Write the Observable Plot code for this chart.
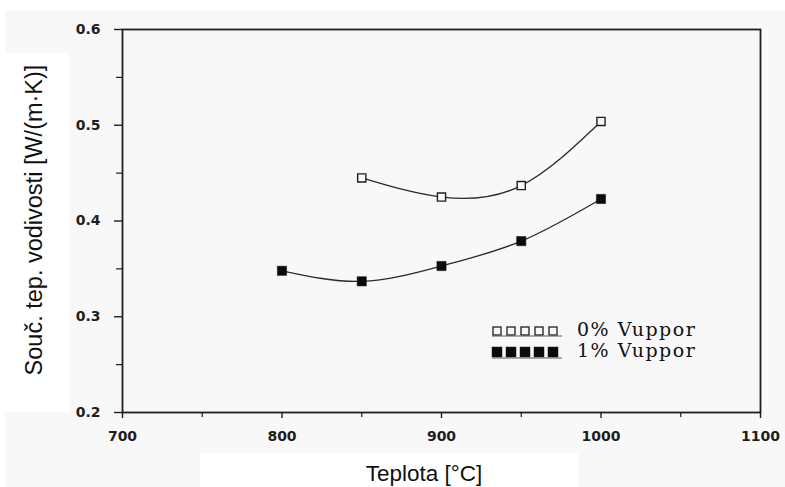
<!DOCTYPE html>
<html>
<head>
<meta charset="utf-8">
<script src="https://cdn.jsdelivr.net/npm/d3@7"></script>
<script src="https://cdn.jsdelivr.net/npm/@observablehq/plot@0.6"></script>
<style>
  body { margin: 0; background: #ffffff; }
  #wrap { position: relative; width: 785px; height: 487px; overflow: hidden; background: #ffffff; }
  .box { position: absolute; }
  #wrap svg { position: absolute; left: 0; top: 0; }
</style>
</head>
<body>
<div id="wrap">
  <div class="box" style="left:5px;top:10px;width:780px;height:477px;background:#f8f8f8;"></div>
  <div class="box" style="left:5px;top:53px;width:65px;height:359px;background:#ffffff;"></div>
  <div class="box" style="left:200px;top:453px;width:378px;height:34px;background:#ffffff;"></div>
</div>
<script>
// ---- data ----
const temps0 = [850, 900, 950, 1000];
const vals0 = [0.445, 0.425, 0.437, 0.504];
const temps1 = [800, 850, 900, 950, 1000];
const vals1 = [0.348, 0.337, 0.353, 0.379, 0.423];
const seriesNames = ["0% Vuppor", "1% Vuppor"];
const xTicks = [700, 800, 900, 1000, 1100];
const xMinor = [750, 850, 950, 1050];
const yTicks = [0.2, 0.3, 0.4, 0.5, 0.6];
const yMinor = [0.25, 0.35, 0.45, 0.55];
const xTitle = "Teplota [°C]";
const yTitle = "Souč. tep. vodivosti [W/(m·K)]";

const s0 = temps0.map((t, i) => ({t, v: vals0[i]}));
const s1 = temps1.map((t, i) => ({t, v: vals1[i]}));

const ink = "#1e1e1e";
const tickFont = {fontFamily: "DejaVu Sans", fontSize: 14, fontWeight: "bold"};

const chart = Plot.plot({
  width: 785,
  height: 487,
  marginLeft: 122,
  marginRight: 25,
  marginTop: 29,
  marginBottom: 75,
  style: "background: transparent; font-family: 'DejaVu Sans'; font-size: 14px; font-weight: bold; color: #1e1e1e;",
  x: {domain: [700, 1100]},
  y: {domain: [0.2, 0.6]},
  marks: [
    Plot.axisX({ticks: xTicks, tickSize: 6, tickPadding: 13, tickFormat: d => String(d), label: null, strokeWidth: 1.4, ...tickFont}),
    Plot.axisX({ticks: xMinor, tickSize: 5, tickFormat: () => "", label: null, strokeWidth: 1.2}),
    Plot.axisY({ticks: yTicks, tickSize: 8, tickPadding: 14, tickFormat: d => d.toFixed(1), label: null, strokeWidth: 1.4, ...tickFont}),
    Plot.axisY({ticks: yMinor, tickSize: 6, tickFormat: () => "", label: null, strokeWidth: 1.2}),
    Plot.frame({stroke: ink, strokeWidth: 1.8}),
    Plot.line(s0, {x: "t", y: "v", curve: "natural", stroke: "#2a2a2a", strokeWidth: 1.3}),
    Plot.line(s1, {x: "t", y: "v", curve: "natural", stroke: "#2a2a2a", strokeWidth: 1.3}),
    Plot.dot(s0, {x: "t", y: "v", symbol: "square", r: 4.6, fill: "#f8f8f8", stroke: ink, strokeWidth: 1.4}),
    Plot.dot(s1, {x: "t", y: "v", symbol: "square", r: 5.2, fill: "#0a0a0a", stroke: "#0a0a0a", strokeWidth: 0.5})
  ]
});
d3.select(chart).selectAll("text")
  .attr("font-size", 14)
  .attr("font-weight", "bold")
  .attr("font-family", "DejaVu Sans")
  .style("font-size", "14px")
  .style("font-weight", "bold");
document.getElementById("wrap").appendChild(chart);

// ---- titles and legend overlay ----
const ov = d3.select("#wrap").append("svg")
  .attr("width", 785).attr("height", 487)
  .style("pointer-events", "none");

ov.append("text")
  .attr("x", 424).attr("y", 481)
  .attr("text-anchor", "middle")
  .attr("font-family", "Liberation Sans, Arial, sans-serif")
  .attr("font-size", 22.5)
  .attr("fill", "#111")
  .text(xTitle);

ov.append("text")
  .attr("transform", "translate(42,220) rotate(-90)")
  .attr("text-anchor", "middle")
  .attr("font-family", "Liberation Sans, Arial, sans-serif")
  .attr("font-size", 23.5)
  .attr("fill", "#111")
  .text(yTitle);

const legRows = [
  {name: seriesNames[0], open: true, y: 331, base: 336},
  {name: seriesNames[1], open: false, y: 352, base: 357}
];
legRows.forEach(row => {
  const g = ov.append("g");
  for (let k = 0; k < 5; k++) {
    const cx = 497 + k * 14;
    const sz = row.open ? 8 : 10;
    g.append("rect")
      .attr("x", cx - sz / 2).attr("y", row.y - sz / 2)
      .attr("width", sz).attr("height", sz)
      .attr("fill", row.open ? "#f8f8f8" : "#0a0a0a")
      .attr("stroke", ink).attr("stroke-width", row.open ? 1.3 : 0.5);
  }
  g.append("line")
    .attr("x1", 492).attr("x2", 562)
    .attr("y1", row.y + (row.open ? 5 : 6)).attr("y2", row.y + (row.open ? 5 : 6))
    .attr("stroke", "#555").attr("stroke-width", 1);
  g.append("text")
    .attr("x", 577).attr("y", row.base)
    .attr("font-family", "DejaVu Serif, Liberation Serif, serif")
    .attr("font-size", 19)
    .attr("letter-spacing", 1.5)
    .attr("fill", "#111")
    .text(row.name);
});
</script>
</body>
</html>
